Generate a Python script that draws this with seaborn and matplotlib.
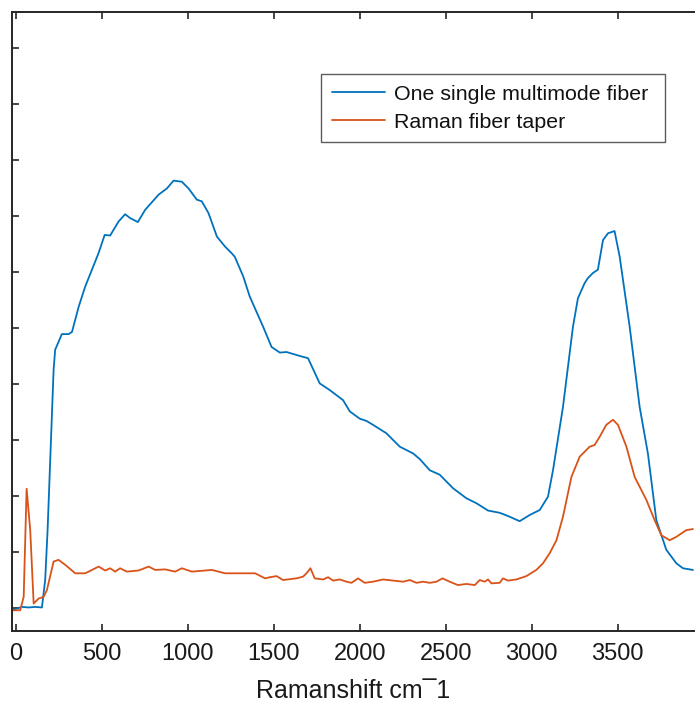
import numpy as np
import pandas as pd
import matplotlib
matplotlib.use("Agg")
import matplotlib.pyplot as plt
import seaborn as sns

# ---- data (Raman shift in cm^-1, intensity in arbitrary units) ----
fiber_x = [-23, 35, 74, 112, 151, 170, 184, 219, 228, 267, 306, 326, 365, 403, 442, 481, 516, 548,
           597, 635, 665, 709, 752, 830, 878, 917, 965, 1004, 1052, 1081, 1120, 1169, 1217, 1256,
           1273, 1322, 1360, 1438, 1487, 1535, 1574, 1651, 1699, 1767, 1826, 1903, 1942, 2000,
           2039, 2077, 2155, 2184, 2233, 2310, 2349, 2407, 2465, 2542, 2620, 2679, 2746, 2814,
           2872, 2930, 2988, 3047, 3095, 3124, 3182, 3240, 3269, 3308, 3327, 3356, 3385, 3415,
           3444, 3482, 3512, 3570, 3628, 3676, 3725, 3783, 3841, 3880, 3938]
fiber_y = [-0.04, 0.02, 0.01, 0.02, 0.01, 0.50, 1.39, 4.25, 4.61, 4.89, 4.89, 4.93, 5.38, 5.74,
           6.04, 6.34, 6.66, 6.65, 6.90, 7.03, 6.96, 6.89, 7.11, 7.38, 7.49, 7.63, 7.61, 7.49,
           7.29, 7.26, 7.05, 6.63, 6.45, 6.33, 6.27, 5.92, 5.56, 5.02, 4.66, 4.56, 4.57, 4.50,
           4.46, 4.01, 3.89, 3.71, 3.51, 3.38, 3.34, 3.27, 3.12, 3.03, 2.88, 2.76, 2.66, 2.46,
           2.38, 2.14, 1.96, 1.87, 1.74, 1.70, 1.63, 1.55, 1.66, 1.75, 1.99, 2.46, 3.59, 5.02,
           5.53, 5.80, 5.89, 5.98, 6.04, 6.57, 6.69, 6.73, 6.27, 5.02, 3.59, 2.76, 1.57, 1.04,
           0.80, 0.71, 0.68]

taper_x = [-23, 25, 45, 62, 83, 103, 132, 161, 180, 219, 248, 287, 345, 403, 481, 519, 548, 577,
           606, 645, 713, 772, 810, 868, 926, 965, 1023, 1140, 1217, 1333, 1391, 1449, 1477,
           1516, 1554, 1632, 1670, 1690, 1713, 1738, 1787, 1816, 1845, 1884, 1923, 1952, 1990,
           2029, 2077, 2135, 2194, 2252, 2291, 2330, 2368, 2407, 2446, 2481, 2523, 2571, 2620,
           2669, 2698, 2727, 2746, 2766, 2814, 2833, 2862, 2911, 2969, 3027, 3066, 3105, 3144,
           3182, 3231, 3279, 3337, 3366, 3396, 3434, 3473, 3502, 3551, 3599, 3667, 3715, 3754,
           3803, 3841, 3899, 3938]
taper_y = [-0.04, -0.04, 0.20, 2.13, 1.39, 0.08, 0.17, 0.20, 0.32, 0.83, 0.86, 0.77, 0.62, 0.62,
           0.74, 0.67, 0.71, 0.65, 0.71, 0.65, 0.67, 0.74, 0.68, 0.69, 0.65, 0.71, 0.65, 0.68,
           0.62, 0.62, 0.62, 0.53, 0.55, 0.57, 0.50, 0.53, 0.56, 0.62, 0.71, 0.53, 0.51, 0.55,
           0.49, 0.51, 0.47, 0.45, 0.53, 0.45, 0.47, 0.51, 0.49, 0.47, 0.50, 0.45, 0.47, 0.45,
           0.47, 0.53, 0.47, 0.41, 0.43, 0.41, 0.50, 0.47, 0.51, 0.44, 0.45, 0.53, 0.49, 0.51,
           0.57, 0.68, 0.80, 0.98, 1.21, 1.63, 2.34, 2.70, 2.88, 2.91, 3.06, 3.27, 3.36, 3.27,
           2.88, 2.34, 1.93, 1.57, 1.30, 1.21, 1.27, 1.39, 1.41]

series_names = ["One single multimode fiber", "Raman fiber taper"]
series_colors = ["#0072BD", "#D95319"]
x_ticks = [0, 500, 1000, 1500, 2000, 2500, 3000, 3500]
y_ticks = list(range(0, 11))
x_label = "Ramanshift cm\u00af1"

df = pd.concat([
    pd.DataFrame({"shift": fiber_x, "intensity": fiber_y, "series": series_names[0]}),
    pd.DataFrame({"shift": taper_x, "intensity": taper_y, "series": series_names[1]}),
], ignore_index=True)

sns.set_theme(style="white")
plt.rcParams["font.family"] = ["Liberation Sans", "DejaVu Sans"]

W, H = 695, 713
fig = plt.figure(figsize=(W / 100, H / 100), dpi=100)
ax = fig.add_axes([12 / W, (H - 631) / H, (W - 12) / W, (631 - 12) / H])

sns.lineplot(data=df, x="shift", y="intensity", hue="series", palette=series_colors,
             hue_order=series_names, estimator=None, sort=False, linewidth=1.3, ax=ax)

ax.set_xlim(-23, 3950)
ax.set_ylim(-0.41, 10.64)
ax.set_xticks(x_ticks)
ax.set_xticklabels([str(t) for t in x_ticks])
ax.set_yticks(y_ticks)
ax.set_yticklabels([])
ax.set_ylabel("")
ax.set_xlabel(x_label, fontsize=18, labelpad=10, color="#1a1a1a")

for s in ["left", "top", "bottom"]:
    ax.spines[s].set_linewidth(1.4)
    ax.spines[s].set_color("#262626")
ax.spines["right"].set_visible(False)
ax.tick_params(axis="both", direction="in", length=5, width=1.2, color="#262626",
               labelsize=17, labelcolor="#1a1a1a", top=True, bottom=True, left=True, right=False)
ax.tick_params(axis="x", pad=9)

leg = ax.legend(loc="upper left", bbox_to_anchor=(321 / W, 1 - 140 / H, 344 / W, 66 / H),
                bbox_transform=fig.transFigure, mode="expand", fontsize=15.4, frameon=True,
                fancybox=False, borderaxespad=0, handlelength=2.5, handletextpad=0.4,
                labelspacing=0.42, borderpad=0.5, title=None)
leg.get_frame().set_edgecolor("#333333")
leg.get_frame().set_linewidth(1.0)
for t in leg.get_texts():
    t.set_color("#111111")
for line in leg.get_lines():
    line.set_linewidth(1.3)

fig.savefig("out.png", dpi=100)
